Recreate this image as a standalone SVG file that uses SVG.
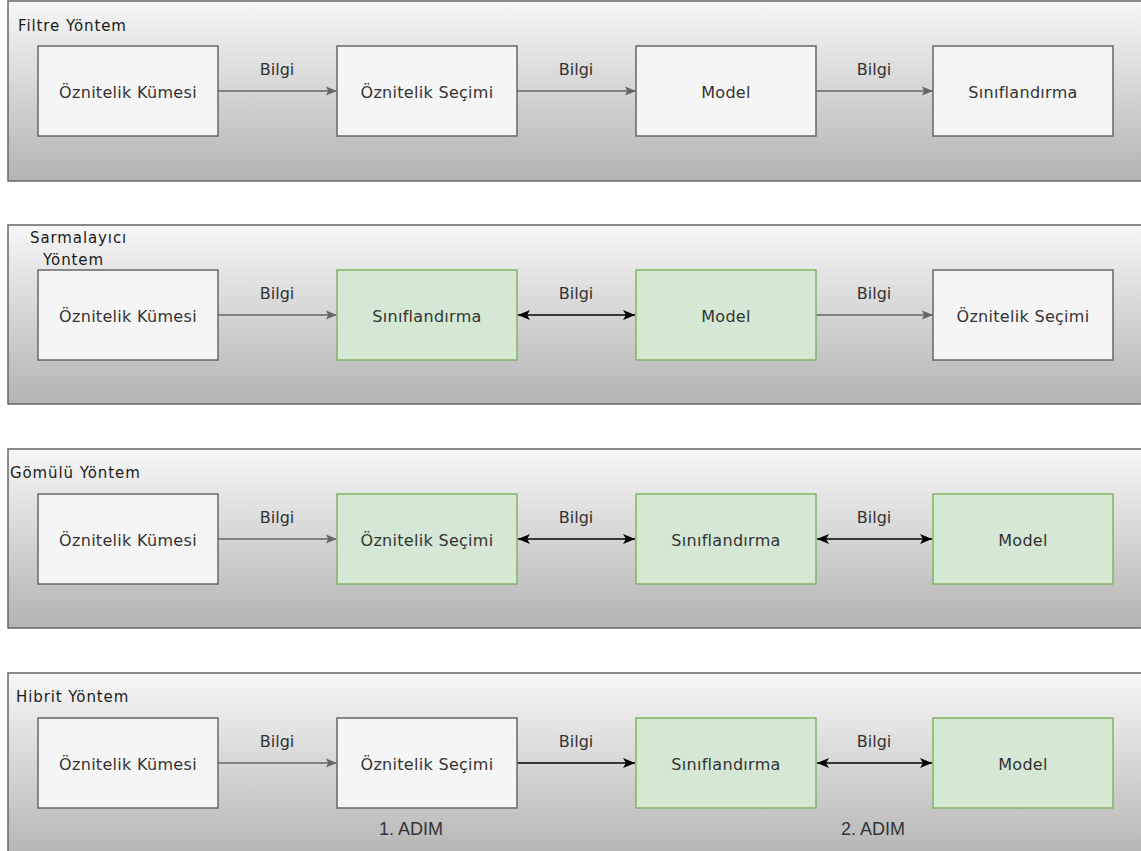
<svg xmlns="http://www.w3.org/2000/svg" width="1141" height="851" viewBox="0 0 1141 851">
<defs>
<linearGradient id="cg" x1="0" y1="0" x2="0" y2="1">
<stop offset="0" stop-color="#f7f7f7"/>
<stop offset="1" stop-color="#b3b3b3"/>
</linearGradient>
<marker id="ag" viewBox="0 0 10 10" refX="10" refY="5" markerWidth="11" markerHeight="11" markerUnits="userSpaceOnUse" orient="auto">
<path d="M0,1 L10,5 L0,9 L2,5 Z" fill="#666"/>
</marker>
<marker id="ab" viewBox="0 0 12 12" refX="12" refY="6" markerWidth="12" markerHeight="12" markerUnits="userSpaceOnUse" orient="auto-start-reverse">
<path d="M0,1 L12,6 L0,11 L3,6 Z" fill="#000"/>
</marker>
</defs>
<style>
.cont{fill:url(#cg);stroke:#666;stroke-width:1.5}
.box{fill:#f5f5f5;stroke:#666;stroke-width:1.5}
.gbox{fill:#d5e8d4;stroke:#82b366;stroke-width:1.5}
.t{font-family:"DejaVu Sans","Noto Sans",sans-serif;font-size:16px;letter-spacing:0.3px;fill:#333;text-anchor:middle}
.title{font-family:"DejaVu Sans","Noto Sans",sans-serif;font-size:15px;letter-spacing:0.9px;fill:#1a1a1a}
.lbl{font-family:"DejaVu Sans","Noto Sans",sans-serif;font-size:16px;fill:#333;text-anchor:middle}
.step{font-family:"Liberation Sans",Arial,sans-serif;font-size:18px;fill:#333;text-anchor:middle}
.gray{stroke:#666;stroke-width:1.5;fill:none;marker-end:url(#ag)}
.blk{stroke:#000;stroke-width:1.5;fill:none;marker-end:url(#ab)}
.bi{stroke:#000;stroke-width:1.5;fill:none;marker-end:url(#ab);marker-start:url(#ab)}
</style>

<g id="containers">
<g id="filtre"><rect class="cont" x="8" y="1" width="1140" height="180"/><text class="title" x="18" y="31">Filtre Yöntem</text></g>
<g id="sarmalayici"><rect class="cont" x="8" y="225" width="1140" height="179"/><text class="title" x="30" y="243">Sarmalayıcı</text><text class="title" x="43" y="265">Yöntem</text></g>
<g id="gomulu"><rect class="cont" x="8" y="449" width="1140" height="179"/><text class="title" x="10" y="478">Gömülü Yöntem</text></g>
<g id="hibrit"><rect class="cont" x="8" y="673" width="1140" height="190"/><text class="title" x="16" y="702">Hibrit Yöntem</text></g>
</g>

<g id="connectors">
<path class="gray" d="M218,91 L337,91"/>
<path class="gray" d="M517,91 L636,91"/>
<path class="gray" d="M816,91 L933,91"/>
<path class="gray" d="M218,315 L337,315"/>
<path class="bi" d="M518,315 L635,315"/>
<path class="gray" d="M816,315 L933,315"/>
<path class="gray" d="M218,539 L337,539"/>
<path class="bi" d="M518,539 L635,539"/>
<path class="bi" d="M817,539 L932,539"/>
<path class="gray" d="M218,763 L337,763"/>
<path class="blk" d="M517,763 L635,763"/>
<path class="bi" d="M817,763 L932,763"/>
<text class="lbl" x="277" y="75">Bilgi</text>
<text class="lbl" x="576" y="75">Bilgi</text>
<text class="lbl" x="874" y="75">Bilgi</text>
<text class="lbl" x="277" y="299">Bilgi</text>
<text class="lbl" x="576" y="299">Bilgi</text>
<text class="lbl" x="874" y="299">Bilgi</text>
<text class="lbl" x="277" y="523">Bilgi</text>
<text class="lbl" x="576" y="523">Bilgi</text>
<text class="lbl" x="874" y="523">Bilgi</text>
<text class="lbl" x="277" y="747">Bilgi</text>
<text class="lbl" x="576" y="747">Bilgi</text>
<text class="lbl" x="874" y="747">Bilgi</text>
</g>

<g id="r1n1"><rect class="box" x="38" y="46" width="180" height="90"/><text class="t" x="128" y="98">Öznitelik Kümesi</text></g>
<g id="r1n2"><rect class="box" x="337" y="46" width="180" height="90"/><text class="t" x="427" y="98">Öznitelik Seçimi</text></g>
<g id="r1n3"><rect class="box" x="636" y="46" width="180" height="90"/><text class="t" x="726" y="98">Model</text></g>
<g id="r1n4"><rect class="box" x="933" y="46" width="180" height="90"/><text class="t" x="1023" y="98">Sınıflandırma</text></g>

<g id="r2n1"><rect class="box" x="38" y="270" width="180" height="90"/><text class="t" x="128" y="322">Öznitelik Kümesi</text></g>
<g id="r2n2"><rect class="gbox" x="337" y="270" width="180" height="90"/><text class="t" x="427" y="322">Sınıflandırma</text></g>
<g id="r2n3"><rect class="gbox" x="636" y="270" width="180" height="90"/><text class="t" x="726" y="322">Model</text></g>
<g id="r2n4"><rect class="box" x="933" y="270" width="180" height="90"/><text class="t" x="1023" y="322">Öznitelik Seçimi</text></g>

<g id="r3n1"><rect class="box" x="38" y="494" width="180" height="90"/><text class="t" x="128" y="546">Öznitelik Kümesi</text></g>
<g id="r3n2"><rect class="gbox" x="337" y="494" width="180" height="90"/><text class="t" x="427" y="546">Öznitelik Seçimi</text></g>
<g id="r3n3"><rect class="gbox" x="636" y="494" width="180" height="90"/><text class="t" x="726" y="546">Sınıflandırma</text></g>
<g id="r3n4"><rect class="gbox" x="933" y="494" width="180" height="90"/><text class="t" x="1023" y="546">Model</text></g>

<g id="r4n1"><rect class="box" x="38" y="718" width="180" height="90"/><text class="t" x="128" y="770">Öznitelik Kümesi</text></g>
<g id="r4n2"><rect class="box" x="337" y="718" width="180" height="90"/><text class="t" x="427" y="770">Öznitelik Seçimi</text></g>
<g id="r4n3"><rect class="gbox" x="636" y="718" width="180" height="90"/><text class="t" x="726" y="770">Sınıflandırma</text></g>
<g id="r4n4"><rect class="gbox" x="933" y="718" width="180" height="90"/><text class="t" x="1023" y="770">Model</text></g>

<g id="steps">
<text class="step" x="411" y="835">1. ADIM</text>
<text class="step" x="873" y="835">2. ADIM</text>
</g>
</svg>
